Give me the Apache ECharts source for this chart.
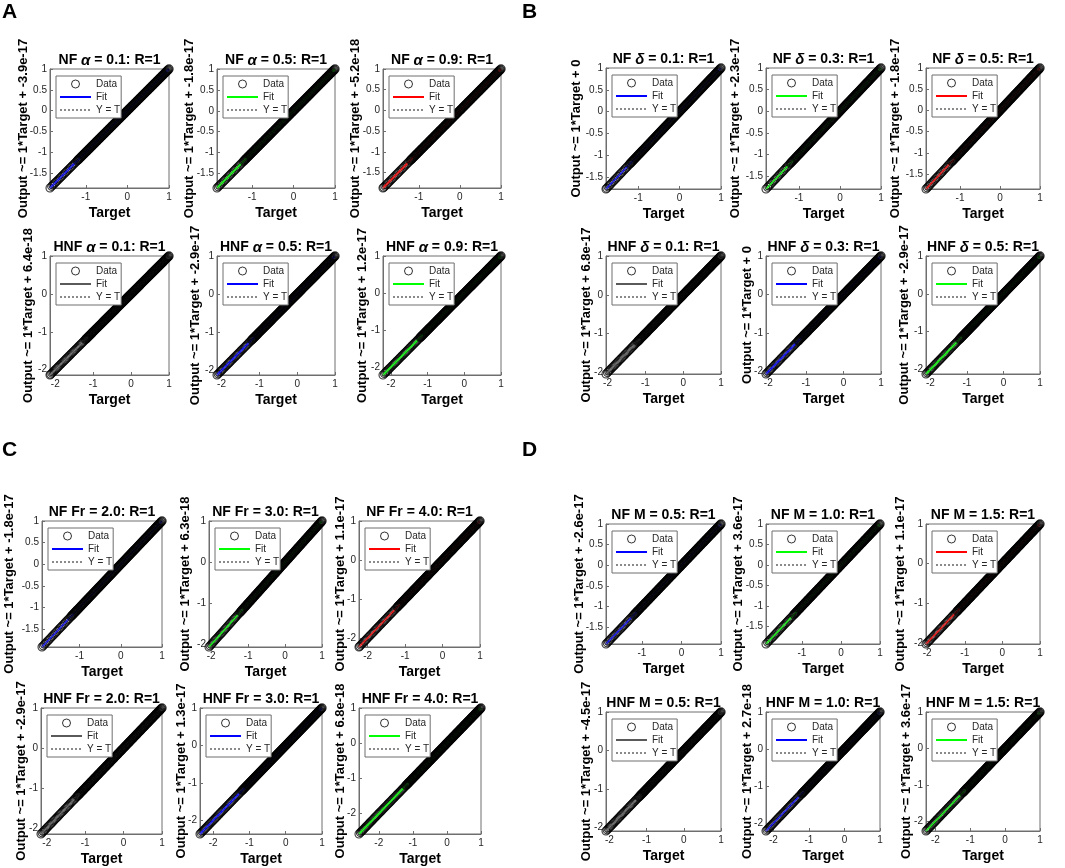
<!DOCTYPE html>
<html>
<head>
<meta charset="utf-8">
<title>Regression plots</title>
<script src="https://cdn.jsdelivr.net/npm/echarts@6/dist/echarts.min.js"></script>
<style>
  html, body { margin: 0; padding: 0; background: #fff; }
  #chart { width: 1065px; height: 868px; }
</style>
</head>
<body>
<div id="chart"></div>
<script>
// --- Data ------------------------------------------------------------------
// R=1 everywhere, so every output sits on its target (Output = Target).

// Upper, densely sampled part of each curve (same in all 24 plots)
var DENSE_TARGETS = [
  -1.20, -1.18, -1.16, -1.14, -1.12, -1.10, -1.08, -1.06, -1.04, -1.02,
  -1.00, -0.98, -0.96, -0.94, -0.92, -0.90, -0.88, -0.86, -0.84, -0.82,
  -0.80, -0.78, -0.76, -0.74, -0.72, -0.70, -0.68, -0.66, -0.64, -0.62,
  -0.60, -0.58, -0.56, -0.54, -0.52, -0.50, -0.48, -0.46, -0.44, -0.42,
  -0.40, -0.38, -0.36, -0.34, -0.32, -0.30, -0.28, -0.26, -0.24, -0.22,
  -0.20, -0.18, -0.16, -0.14, -0.12, -0.10, -0.08, -0.06, -0.04, -0.02,
   0.00,  0.02,  0.04,  0.06,  0.08,  0.10,  0.12,  0.14,  0.16,  0.18,
   0.20,  0.22,  0.24,  0.26,  0.28,  0.30,  0.32,  0.34,  0.36,  0.38,
   0.40,  0.42,  0.44,  0.46,  0.48,  0.50,  0.52,  0.54,  0.56,  0.58,
   0.60,  0.62,  0.64,  0.66,  0.68,  0.70,  0.72,  0.74,  0.76,  0.78,
   0.80,  0.82,  0.84,  0.86,  0.88,  0.90,  0.92,  0.94,  0.96,  0.98,
   1.00
];

// Lower, sparser tail (each plot keeps the part above its own minimum)
var TAIL_TARGETS = [
  -2.60, -2.57, -2.54, -2.51, -2.48, -2.45, -2.42, -2.39, -2.36, -2.33,
  -2.30, -2.27, -2.24, -2.21, -2.18, -2.15, -2.12, -2.09, -2.06, -2.03,
  -2.00, -1.97, -1.94, -1.91, -1.88, -1.85, -1.82, -1.79, -1.76, -1.73,
  -1.70, -1.67, -1.64, -1.61, -1.58, -1.55, -1.52, -1.49, -1.46, -1.43,
  -1.40, -1.37, -1.34, -1.31, -1.28, -1.25, -1.22
];

// Smallest target in each plot (A1..A6, B1..B6, C1..C6, D1..D6)
var TARGET_MIN = [
  -1.86, -1.85, -1.87, -2.14, -2.12, -2.22,
  -1.78, -1.80, -1.85, -2.04, -2.06, -2.12,
  -1.91, -2.06, -2.23, -2.15, -2.36, -2.58,
  -1.91, -1.92, -2.03, -2.09, -2.21, -2.27
];
var TARGET_MAX = 1;

var INTERCEPTS = [
  '-3.9e-17', '-1.8e-17', '-5.2e-18', '6.4e-18', '-2.9e-17', '1.2e-17',
  '0', '-2.3e-17', '-1.8e-17', '6.8e-17', '0', '-2.9e-17',
  '-1.8e-17', '6.3e-18', '1.1e-17', '-2.9e-17', '1.3e-17', '6.8e-18',
  '-2.6e-17', '3.6e-17', '1.1e-17', '-4.5e-17', '2.7e-18', '3.6e-17'
];

var PANEL_LETTERS = ['A', 'B', 'C', 'D'];
var PANEL_PARAMS = ['α', 'δ', 'Fr', 'M'];
var PARAM_ITALIC = [true, true, false, false];
var PARAM_VALUES = [
  ['0.1', '0.5', '0.9'],
  ['0.1', '0.3', '0.5'],
  ['2.0', '3.0', '4.0'],
  ['0.5', '1.0', '1.5']
];
var ROW_FLUIDS = ['NF', 'HNF'];
var FIT_COLORS = [
  ['#0000ff', '#00ff00', '#ff0000'],
  ['#5a5a5a', '#0000ff', '#00ff00']
];

var FINE_TICKS_Y = [-1.5, -1, -0.5, 0, 0.5, 1];
var FINE_TICKS_X = [-1, 0, 1];
var COARSE_TICKS = [-2, -1, 0, 1];

// --- Layout (pixel boxes of the plot areas, per row) -----------------------
var LAYOUT = [
  { letterX: 2, letterY: 2, rows: [69, 256], heights: [119, 119],
    cols: [[50, 217, 383], [50, 217, 383]], widths: [[119, 118, 118], [119, 118, 118]],
    nameGaps: [[20, 21, 21], [15, 15, 14]] },
  { letterX: 522, letterY: 2, rows: [68, 256], heights: [121, 118],
    cols: [[606, 766, 926], [606, 766, 926]], widths: [[115, 115, 114], [115, 115, 114]],
    nameGaps: [[23, 24, 24], [13, 12, 15]] },
  { letterX: 2, letterY: 440, rows: [521, 708], heights: [126, 126],
    cols: [[42, 209, 359], [41, 200, 359]], widths: [[120, 113, 121], [121, 122, 122]],
    nameGaps: [[26, 17, 12], [13, 12, 12]] },
  { letterX: 522, letterY: 440, rows: [524, 712], heights: [120, 119],
    cols: [[606, 766, 926], [606, 766, 926]], widths: [[115, 114, 114], [115, 114, 114]],
    nameGaps: [[20, 21, 19], [13, 12, 13]] }
];

var FONT = '"Liberation Sans", Arial, Helvetica, sans-serif';
var INK = '#262626';
var BOX = '#6e6e6e';

var option = {
  animation: false,
  backgroundColor: '#fff',
  textStyle: { fontFamily: FONT },
  title: [],
  legend: [],
  grid: [],
  xAxis: [],
  yAxis: [],
  series: []
};

function stripTag(name) { return name.split('#')[0]; }

PANEL_LETTERS.forEach(function (letter, p) {
  var lay = LAYOUT[p];
  option.title.push({
    text: letter, left: lay.letterX, top: lay.letterY, padding: 0,
    textStyle: { fontSize: 21, fontWeight: 'bold', color: '#000', fontFamily: FONT }
  });

  for (var r = 0; r < 2; r++) {
    for (var c = 0; c < 3; c++) {
      var idx = p * 6 + r * 3 + c;
      var bx = lay.cols[r][c], by = lay.rows[r];
      var bw = lay.widths[r][c], bh = lay.heights[r];
      var mn = TARGET_MIN[idx];
      var fine = mn > -2;
      var fitColor = FIT_COLORS[r][c];

      // title, e.g. "NF α = 0.1: R=1"
      var paramPart = PARAM_ITALIC[p] ? '{i|' + PANEL_PARAMS[p] + '}' : '{b|' + PANEL_PARAMS[p] + '}';
      option.title.push({
        text: '{b|' + ROW_FLUIDS[r] + ' }' + paramPart + '{b| = ' + PARAM_VALUES[p][c] + ': R=1}',
        left: bx + bw / 2, top: by - 16, textAlign: 'center', padding: 0,
        textStyle: {
          rich: {
            b: { fontSize: 14, fontWeight: 'bold', color: '#000', fontFamily: FONT },
            i: { fontSize: 15, fontStyle: 'italic', fontWeight: 'bold', color: '#000', fontFamily: FONT }
          }
        }
      });

      option.grid.push({
        left: bx, top: by, width: bw, height: bh,
        show: true, borderColor: BOX, borderWidth: 1, backgroundColor: '#fff'
      });

      var xt = fine ? FINE_TICKS_X : COARSE_TICKS;
      var yt = fine ? FINE_TICKS_Y : COARSE_TICKS;

      option.xAxis.push({
        gridIndex: idx, type: 'value', min: mn, max: TARGET_MAX,
        axisLine: { show: true, onZero: false, lineStyle: { color: BOX, width: 1 } },
        axisTick: { show: true, inside: true, length: 3, customValues: xt, lineStyle: { color: BOX } },
        axisLabel: { customValues: xt, fontSize: 10, color: INK, margin: 4, fontFamily: FONT },
        splitLine: { show: false },
        name: 'Target', nameLocation: 'middle', nameGap: 18,
        nameTextStyle: { fontSize: 14, fontWeight: 'bold', color: '#000', fontFamily: FONT }
      });

      option.yAxis.push({
        gridIndex: idx, type: 'value', min: mn, max: TARGET_MAX,
        axisLine: { show: true, onZero: false, lineStyle: { color: BOX, width: 1 } },
        axisTick: { show: true, inside: true, length: 3, customValues: yt, lineStyle: { color: BOX } },
        axisLabel: { customValues: yt, fontSize: 10, color: INK, margin: 3, fontFamily: FONT },
        splitLine: { show: false },
        name: 'Output ~= 1*Target + ' + INTERCEPTS[idx],
        nameLocation: 'middle', nameRotate: 90, nameGap: lay.nameGaps[r][c], nameMoveOverlap: false,
        nameTextStyle: { fontSize: 13, fontWeight: 'bold', color: '#000', fontFamily: FONT }
      });

      // data points: the minimum plus the tail above it, then the dense part
      var tail = [mn].concat(TAIL_TARGETS.filter(function (t) { return t > mn + 0.015; }));
      var tailPts = tail.map(function (t) { return [t, t]; });
      var densePts = DENSE_TARGETS.map(function (t) { return [t, t]; });
      var ends = [[mn, mn], [TARGET_MAX, TARGET_MAX]];

      var tag = '#' + idx;
      option.series.push({
        name: 'tail' + tag, type: 'scatter', xAxisIndex: idx, yAxisIndex: idx,
        data: tailPts, symbol: 'circle', symbolSize: 8, clip: false, silent: true, z: 1,
        itemStyle: { color: 'rgba(0,0,0,0)', borderColor: '#000', borderWidth: 1.1 }
      });
      option.series.push({
        name: 'Fit' + tag, type: 'line', xAxisIndex: idx, yAxisIndex: idx,
        data: ends, symbol: 'none', silent: true, z: 2,
        lineStyle: { color: fitColor, width: 1.8 }, itemStyle: { color: fitColor }
      });
      option.series.push({
        name: 'Y = T' + tag, type: 'line', xAxisIndex: idx, yAxisIndex: idx,
        data: ends, symbol: 'none', silent: true, z: 2,
        lineStyle: { color: '#8a8a8a', width: 1, type: 'dotted' }, itemStyle: { color: '#8a8a8a' }
      });
      option.series.push({
        name: 'Data' + tag, type: 'scatter', xAxisIndex: idx, yAxisIndex: idx,
        data: densePts, symbol: 'circle', symbolSize: 8, clip: false, silent: true, z: 3,
        itemStyle: { color: 'rgba(0,0,0,0)', borderColor: '#000', borderWidth: 1.4 }
      });

      option.legend.push({
        orient: 'vertical', left: bx + 6, top: by + 7,
        data: [
          { name: 'Data' + tag, itemStyle: { borderWidth: 1, borderColor: '#000', color: '#fff' } },
          { name: 'Fit' + tag, itemStyle: { opacity: 0 } },
          { name: 'Y = T' + tag, itemStyle: { opacity: 0 } }
        ],
        formatter: stripTag,
        selectedMode: false,
        itemWidth: 31, itemHeight: 8, itemGap: 3,
        padding: [3, 1, 3, 3],
        borderColor: BOX, borderWidth: 1, borderRadius: 0,
        backgroundColor: '#fff',
        textStyle: { fontSize: 10, color: INK, fontFamily: FONT }
      });
    }
  }
});

var chart = echarts.init(document.getElementById('chart'), null, { renderer: 'canvas' });
chart.setOption(option);
</script>
</body>
</html>
